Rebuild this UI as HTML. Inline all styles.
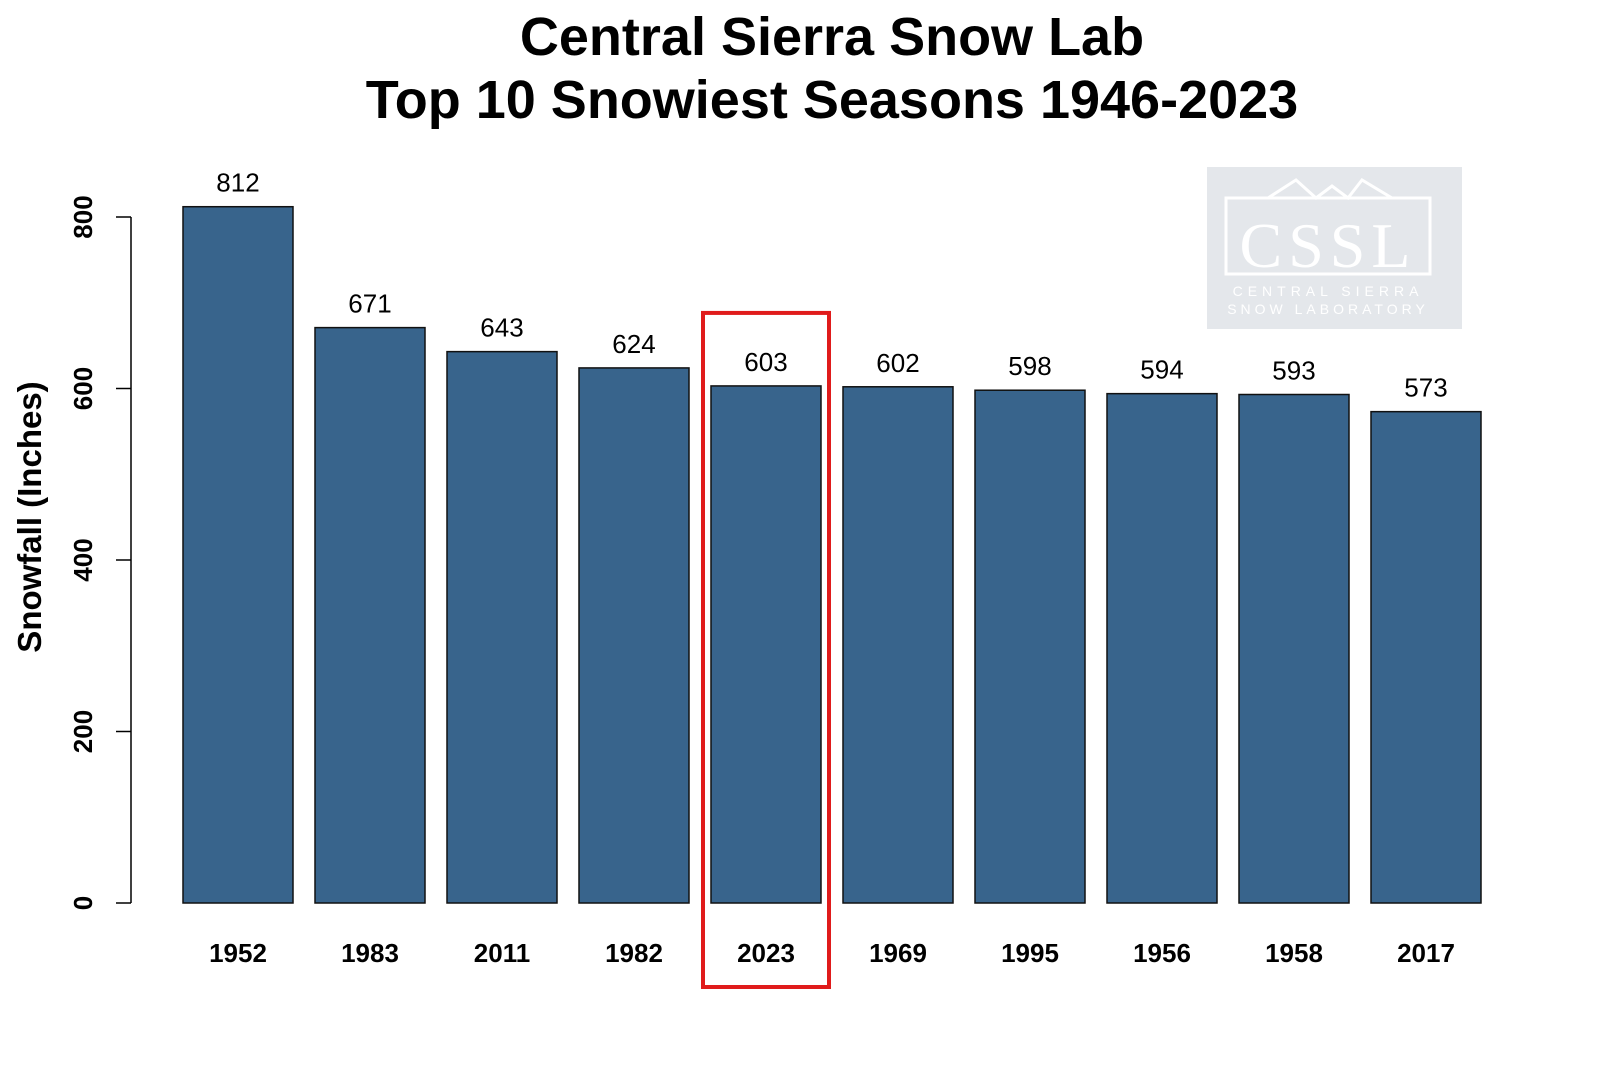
<!DOCTYPE html>
<html><head><meta charset="utf-8"><style>
body{margin:0;background:#fff;font-family:"Liberation Sans",Arial,sans-serif}
</style></head><body>
<svg id="chart" width="1600" height="1067" xmlns="http://www.w3.org/2000/svg" font-family="Liberation Sans, Arial, sans-serif">
<rect width="1600" height="1067" fill="#fff"/>
<text x="832" y="55" font-size="54" font-weight="bold" text-anchor="middle">Central Sierra Snow Lab</text>
<text x="832" y="118" font-size="54" font-weight="bold" text-anchor="middle">Top 10 Snowiest Seasons 1946-2023</text>
<g>
<rect x="1207" y="167" width="255" height="162" fill="#e4e7eb"/>
<polyline points="1268,198 1296,180 1316,198 1332,186 1348,198 1362,180 1392,198" fill="none" stroke="#fff" stroke-width="3"/>
<rect x="1226" y="198" width="204" height="76" fill="none" stroke="#fff" stroke-width="3"/>
<text x="1328" y="267" font-family="Liberation Serif, serif" font-size="64" fill="#fff" text-anchor="middle" letter-spacing="6">CSSL</text>
<text x="1328" y="296" font-size="14" fill="#fff" text-anchor="middle" letter-spacing="5">CENTRAL SIERRA</text>
<text x="1328" y="314" font-size="14" fill="#fff" text-anchor="middle" letter-spacing="4">SNOW LABORATORY</text>
</g>
<g id="axes"></g>
<g id="bars"></g>
<text transform="translate(41,517) rotate(-90)" font-size="33" font-weight="bold" text-anchor="middle">Snowfall (Inches)</text>
</svg>
<script>
const categories=["1952","1983","2011","1982","2023","1969","1995","1956","1958","2017"];
const values=[812,671,643,624,603,602,598,594,593,573];
const yTicks=[0,200,400,600,800];
const highlight="2023";
const NS="http://www.w3.org/2000/svg";
const y0=903, yScale=171.5/200;
function yPos(v){return y0-v*yScale;}
function xPos(i){return 183+i*132;}
const bw=110;
function mk(tag,attrs,parent){const e=document.createElementNS(NS,tag);for(const k in attrs)e.setAttribute(k,attrs[k]);parent.appendChild(e);return e;}
const axes=document.getElementById('axes'), bars=document.getElementById('bars');
const axisLine=mk('line',{x1:131,x2:131,y1:yPos(0),y2:yPos(800),stroke:'#000','stroke-width':1.5},axes);


yTicks.forEach(t=>{
  const l=mk('line',{x1:116,x2:131,y1:yPos(t),y2:yPos(t),stroke:'#000','stroke-width':1.5},axes);
  
  
  const tx=mk('text',{transform:`translate(92,${yPos(t)}) rotate(-90)`,'font-size':26,'font-weight':'bold','text-anchor':'middle'},axes);
  tx.textContent=t;
  
  
});
categories.forEach((c,i)=>{
  const v=values[i];
  const r=mk('rect',{x:xPos(i),y:yPos(v),width:bw,height:yPos(0)-yPos(v),fill:'#38648c',stroke:'#111','stroke-width':1.5},bars);
  
  
  const vl=mk('text',{x:xPos(i)+bw/2,y:yPos(v)-15,'font-size':26,'text-anchor':'middle'},bars);
  vl.textContent=v;
  
  
  const xl=mk('text',{x:xPos(i)+bw/2,y:962,'font-size':26,'font-weight':'bold','text-anchor':'middle'},bars);
  xl.textContent=c;
  
  
  if(c===highlight){
    const hb=mk('rect',{x:xPos(i)-8,y:yPos(v)-73,width:bw+16,height:987-(yPos(v)-73),fill:'none',stroke:'#e01b1b','stroke-width':4},bars);
    
    
  }
});
</script>
</body></html>
